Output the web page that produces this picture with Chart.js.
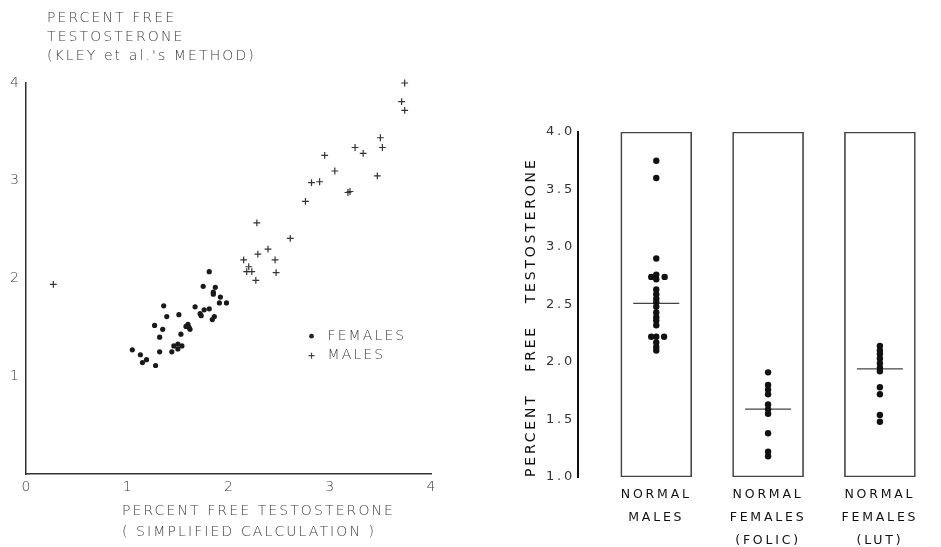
<!DOCTYPE html>
<html>
<head>
<meta charset="utf-8">
<title>Percent free testosterone</title>
<script src="https://cdn.jsdelivr.net/npm/chart.js@4.4.1/dist/chart.umd.min.js"></script>
<style>
  html, body { margin: 0; padding: 0; background: #fff; }
  .wrap { position: absolute; top: 0; height: 547px; }
  #left-wrap { left: 0; width: 460px; }
  #right-wrap { left: 460px; width: 481px; }
</style>
</head>
<body>
<div class="wrap" id="left-wrap"><canvas id="scatter-chart"></canvas></div>
<div class="wrap" id="right-wrap"><canvas id="group-chart"></canvas></div>
<script>
(function () {
  'use strict';

  // ---- Left panel: Kley et al.'s method vs simplified calculation ----
  var femaleX = [1.05, 1.13, 1.15, 1.19, 1.28, 1.32, 1.32, 1.27, 1.35, 1.36, 1.39, 1.44, 1.46, 1.50, 1.50, 1.54, 1.53, 1.51, 1.58, 1.60,
                 1.61, 1.62, 1.67, 1.72, 1.73, 1.76, 1.81, 1.75, 1.81, 1.84, 1.86, 1.85, 1.85, 1.87, 1.92, 1.91, 1.98];
  var femaleY = [1.27, 1.22, 1.14, 1.17, 1.11, 1.25, 1.40, 1.52, 1.48, 1.72, 1.61, 1.25, 1.31, 1.33, 1.28, 1.31, 1.43, 1.63, 1.51, 1.53,
                 1.50, 1.48, 1.71, 1.64, 1.62, 1.68, 1.69, 1.92, 2.07, 1.58, 1.61, 1.86, 1.84, 1.91, 1.81, 1.75, 1.75];
  var maleX = [3.74, 3.71, 3.74, 3.50, 3.52, 3.25, 3.33, 3.47, 2.95, 3.05, 2.82, 2.90, 3.18, 3.20, 2.76, 2.61, 2.28, 2.29, 2.39, 2.46,
               2.47, 2.15, 2.20, 2.18, 2.23, 2.27, 0.27];
  var maleY = [4.00, 3.81, 3.72, 3.44, 3.34, 3.34, 3.28, 3.05, 3.26, 3.10, 2.98, 2.99, 2.88, 2.89, 2.79, 2.41, 2.57, 2.25, 2.30, 2.19,
               2.06, 2.19, 2.12, 2.07, 2.07, 1.98, 1.94];
  var leftTicksX = [0, 1, 2, 3, 4];
  var leftTicksY = [1, 2, 3, 4];
  var leftYTitle = ['PERCENT FREE', 'TESTOSTERONE', '(KLEY et al.\'s METHOD)'];
  var leftXTitle = ['PERCENT FREE TESTOSTERONE', '( SIMPLIFIED CALCULATION )'];
  var legendNames = ['FEMALES', 'MALES'];

  // ---- Right panel: groups ----
  var groupLabels = [['NORMAL', 'MALES'], ['NORMAL', 'FEMALES', '(FOLIC)'], ['NORMAL', 'FEMALES', '(LUT)']];
  var malesPct = [3.75, 3.60, 2.90, 2.76, 2.74, 2.74, 2.72, 2.63, 2.59, 2.55, 2.52, 2.48, 2.43, 2.39, 2.36, 2.32, 2.22, 2.22, 2.22, 2.17, 2.13, 2.10];
  var malesShift = [0, 0, 0, 0, -0.045, 0.075, 0, 0, 0, 0, 0, 0, 0, 0, 0, 0, -0.045, 0, 0.07, 0, 0, 0];
  var folicPct = [1.91, 1.80, 1.76, 1.72, 1.63, 1.59, 1.55, 1.38, 1.22, 1.18];
  var lutPct = [2.14, 2.10, 2.07, 2.03, 1.99, 1.95, 1.92, 1.78, 1.72, 1.54, 1.48];
  var groupMeans = [2.51, 1.59, 1.94];
  var groupRange = [1.0, 4.0];
  var pctTicks = [1.0, 1.5, 2.0, 2.5, 3.0, 3.5, 4.0];
  var rightYTitle = 'PERCENT   FREE   TESTOSTERONE';

  var THIN = '"DejaVu Sans", sans-serif';
  var GREY = '#3c3c3c';

  function pts(xs, ys) {
    return xs.map(function (x, i) { return { x: x, y: ys[i] }; });
  }
  function setTicks(values) {
    return function (scale) {
      scale.ticks = values.map(function (v) { return { value: v }; });
    };
  }

  // headings and legend of the left panel
  var leftNotes = {
    id: 'leftNotes',
    afterDraw: function (chart) {
      var ctx = chart.ctx, xs = chart.scales.x, ys = chart.scales.y;
      ctx.save();
      ctx.fillStyle = GREY;
      ctx.font = '200 14px ' + THIN;
      ctx.letterSpacing = '2.1px';
      ctx.textBaseline = 'middle';
      ctx.textAlign = 'left';
      leftYTitle.forEach(function (line, i) { ctx.fillText(line, 47, 18 + i * 19); });
      leftXTitle.forEach(function (line, i) { ctx.fillText(line, 122, 511 + i * 21); });

      var lx = xs.getPixelForValue(2.82);
      legendNames.forEach(function (name, i) {
        var ly = ys.getPixelForValue(1.41 - i * 0.2);
        ctx.fillText(name, lx + 16, ly);
      });
      var y0 = ys.getPixelForValue(1.41), y1 = ys.getPixelForValue(1.21);
      ctx.fillStyle = '#222';
      ctx.beginPath();
      ctx.arc(lx, y0, 2.4, 0, Math.PI * 2);
      ctx.fill();
      ctx.strokeStyle = '#444';
      ctx.lineWidth = 1.2;
      ctx.beginPath();
      ctx.moveTo(lx - 3, y1); ctx.lineTo(lx + 3, y1);
      ctx.moveTo(lx, y1 - 3); ctx.lineTo(lx, y1 + 3);
      ctx.stroke();
      ctx.restore();
    }
  };

  // wide letter spacing for all text of the right panel
  var spaced = {
    id: 'spaced',
    beforeDraw: function (chart) { chart.ctx.letterSpacing = '2.8px'; }
  };

  new Chart(document.getElementById('scatter-chart'), {
    type: 'scatter',
    data: {
      datasets: [
        { label: 'FEMALES', data: pts(femaleX, femaleY), pointStyle: 'circle', pointRadius: 2.6,
          backgroundColor: '#1a1a1a', borderWidth: 0, clip: false },
        { label: 'MALES', data: pts(maleX, maleY), pointStyle: 'cross', pointRadius: 3.4,
          borderColor: '#333', borderWidth: 1.2, clip: false }
      ]
    },
    options: {
      responsive: true,
      maintainAspectRatio: false,
      animation: false,
      events: [],
      layout: { padding: { top: 83, right: 29, bottom: 0, left: 0 } },
      plugins: { legend: { display: false }, tooltip: { enabled: false } },
      scales: {
        x: {
          type: 'linear', min: 0, max: 4,
          afterBuildTicks: setTicks(leftTicksX),
          afterFit: function (s) { s.height = 73; },
          grid: { display: false, drawTicks: false },
          border: { display: true, color: '#333', width: 1.5 },
          ticks: { padding: 5, color: GREY, font: { family: THIN, size: 14, weight: '200' } }
        },
        y: {
          type: 'linear', min: 0, max: 4,
          afterBuildTicks: setTicks(leftTicksY),
          afterFit: function (s) { s.width = 26; },
          grid: { display: false, drawTicks: false },
          border: { display: true, color: '#333', width: 1.5 },
          ticks: { padding: 7, color: GREY, font: { family: THIN, size: 14, weight: '200' } }
        }
      }
    },
    plugins: [leftNotes]
  });

  var dots = [];
  [malesPct, folicPct, lutPct].forEach(function (vals, g) {
    vals.forEach(function (v, i) {
      var shift = g === 0 ? malesShift[i] : 0;
      dots.push({ x: g + shift, y: v });
    });
  });

  new Chart(document.getElementById('group-chart'), {
    type: 'bar',
    data: {
      datasets: [
        { type: 'bar', data: groupLabels.map(function (g, i) { return { x: i, y: groupRange }; }),
          backgroundColor: 'rgba(0,0,0,0)', borderColor: '#444', borderWidth: 1, borderSkipped: false,
          barThickness: 71, order: 3 },
        { type: 'scatter', data: groupMeans.map(function (m, i) { return { x: i, y: m }; }),
          pointStyle: 'line', pointRadius: 23, borderColor: '#444', borderWidth: 1.2, order: 2, clip: false },
        { type: 'scatter', data: dots, pointStyle: 'circle', pointRadius: 3.2,
          backgroundColor: '#111', borderWidth: 0, order: 1, clip: false }
      ]
    },
    options: {
      responsive: true,
      maintainAspectRatio: false,
      animation: false,
      events: [],
      layout: { padding: { top: 132, right: 4, bottom: 0, left: 0 } },
      plugins: { legend: { display: false }, tooltip: { enabled: false } },
      scales: {
        x: {
          type: 'linear', min: -0.7, max: 2.33, offset: false,
          afterBuildTicks: setTicks(groupLabels.map(function (g, i) { return i; })),
          afterFit: function (s) { s.height = 70; },
          grid: { display: false, drawTicks: false },
          border: { display: false },
          ticks: {
            callback: function (v) { return groupLabels[v]; },
            padding: 6, maxRotation: 0, autoSkip: false, color: '#111',
            font: { family: '"DejaVu Sans", sans-serif', size: 12.5, lineHeight: 1.85 }
          }
        },
        y: {
          type: 'linear', min: groupRange[0], max: groupRange[1],
          afterBuildTicks: setTicks(pctTicks),
          afterFit: function (s) { s.width = 118; },
          grid: { display: false, drawTicks: false },
          border: { display: true, color: '#111', width: 2 },
          ticks: {
            callback: function (v) { return v.toFixed(1); },
            padding: 3, color: '#333',
            font: { family: '"DejaVu Sans", sans-serif', size: 13 }
          },
          title: {
            display: true, text: rightYTitle, align: 'start', color: '#111',
            padding: { top: 63, bottom: 0 },
            font: { family: '"DejaVu Sans", sans-serif', size: 14 }
          }
        }
      }
    },
    plugins: [spaced]
  });
})();
</script>
</body>
</html>
